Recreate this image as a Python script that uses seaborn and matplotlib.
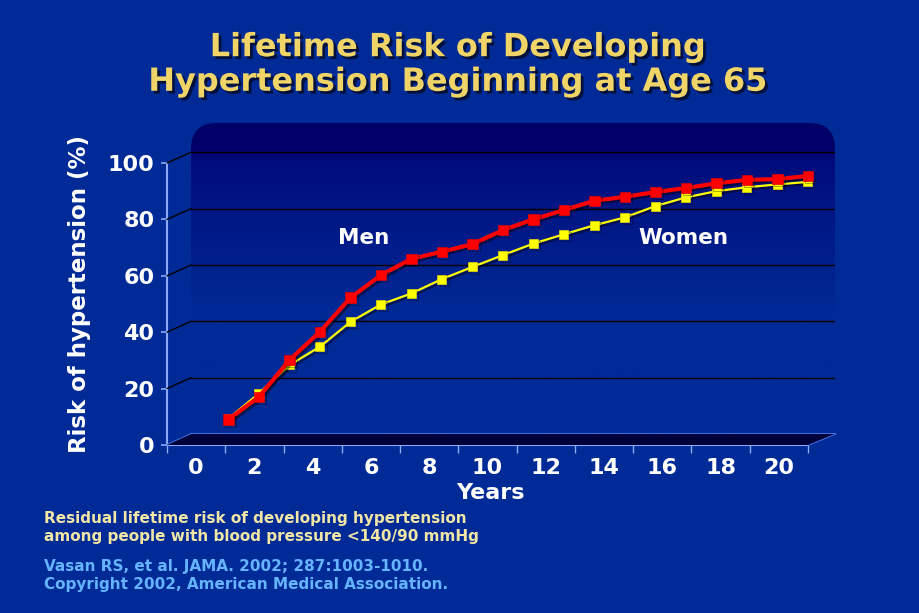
import matplotlib
matplotlib.use("Agg")
import matplotlib.pyplot as plt
import matplotlib.patheffects as pe
from matplotlib.patches import FancyBboxPatch, Polygon
from matplotlib.lines import Line2D
from matplotlib.colors import LinearSegmentedColormap
import numpy as np
import pandas as pd
import seaborn as sns

# values (risk in %, by years since age 65)
years = list(range(1, 21))
men_risk = [5.2, 13.2, 26.3, 36.3, 48.4, 56.4, 62.2, 64.7, 67.4, 72.4,
            76.2, 79.5, 82.8, 84.2, 85.9, 87.3, 89.0, 90.2, 90.5, 91.6]
women_risk = [5.5, 14.4, 24.5, 31.0, 39.8, 46.0, 49.9, 55.0, 59.3, 63.5,
              67.6, 70.9, 74.1, 76.9, 80.9, 84.0, 86.2, 87.6, 88.6, 89.5]
year_labels = [0, 2, 4, 6, 8, 10, 12, 14, 16, 18, 20]
risk_ticks = [0, 20, 40, 60, 80, 100]

df = pd.DataFrame({"Years": years * 2,
                   "Risk": men_risk + women_risk,
                   "Sex": ["Men"] * 20 + ["Women"] * 20})

BG = "#002a96"
AXIS_BLUE = "#8aaaf8"
EDGE_BLUE = "#4f7ff0"

sns.set_style("dark")
plt.rcParams["font.family"] = ["DejaVu Sans"]
plt.rcParams["font.weight"] = "bold"

W, H = 920, 613


def fx(px):
    return px / W


def fy(py):
    return 1 - py / H


fig = plt.figure(figsize=(9.2, 6.13), dpi=100, facecolor=BG)

# back wall of the pseudo-3D chart
ax_back = fig.add_axes([fx(191), fy(434), fx(835) - fx(191), fy(123) - fy(434)])
ax_back.set_xlim(-0.23, 20.89)
ax_back.set_ylim(0, 110.4)
ax_back.set_axis_off()

wall_cmap = LinearSegmentedColormap.from_list(
    "wall", [(0, BG), (0.38, BG), (0.88, "#000c7c"), (0.905, "#00006c"), (1, "#000066")])
grad = np.linspace(0, 1, 256).reshape(-1, 1)
im = ax_back.imshow(grad, extent=[-0.23, 20.89, 0, 110.4], origin="lower",
                    aspect="auto", cmap=wall_cmap, zorder=0)
wall = FancyBboxPatch((0, 0), 1, 1, boxstyle="round,pad=0,rounding_size=0.04",
                      mutation_aspect=644 / 311, transform=ax_back.transAxes)
im.set_clip_path(wall)

for v in risk_ticks[1:]:
    ax_back.axhline(v, color="black", lw=1, zorder=1)

shadow = [pe.SimpleLineShadow(offset=(1.5, -1.5), shadow_color="black", alpha=0.45), pe.Normal()]
sns.lineplot(data=df[df.Sex == "Women"], x="Years", y="Risk", ax=ax_back,
             color="#ffff00", lw=1.6, marker="s", markersize=6.5,
             markeredgecolor="#e8d800", markeredgewidth=0.5,
             path_effects=shadow, zorder=3, legend=False)
sns.lineplot(data=df[df.Sex == "Men"], x="Years", y="Risk", ax=ax_back,
             color="#ff0000", lw=3, marker="s", markersize=7.5,
             markeredgecolor="#e00000", markeredgewidth=0.5,
             path_effects=shadow, zorder=4, legend=False)
ax_back.set_axis_off()

ax_back.text(5.44, 69.6, "Men", color="white", fontsize=15.5, fontweight="bold",
             ha="center", va="center", zorder=5)
ax_back.text(15.93, 69.6, "Women", color="white", fontsize=15.5, fontweight="bold",
             ha="center", va="center", zorder=5)

# floor of the pseudo-3D chart
floor = Polygon([(fx(167), fy(445)), (fx(191), fy(434)), (fx(835), fy(434)), (fx(808), fy(445))],
                closed=True, transform=fig.transFigure, facecolor="#00003a",
                edgecolor="none", zorder=2)
fig.patches.append(floor)
for (x0, y0), (x1, y1) in [((191, 434), (835, 434)), ((808, 445), (835, 434)),
                           ((167, 445), (191, 434))]:
    fig.lines.append(Line2D([fx(x0), fx(x1)], [fy(y0), fy(y1)], transform=fig.transFigure,
                            color=EDGE_BLUE, lw=1.2))
for v in risk_ticks[1:]:
    yf = 445 - v * 2.82
    yb = 434 - v * 2.817
    fig.lines.append(Line2D([fx(167), fx(191)], [fy(yf), fy(yb)], transform=fig.transFigure,
                            color="black", lw=1))

# front axes carrying the tick labels
ax = fig.add_axes([fx(167), fy(445), fx(808) - fx(167), fy(163) - fy(445)])
ax.set_facecolor("none")
ax.set_xlim(-1, 21)
ax.set_ylim(0, 100)
for s in ["top", "right"]:
    ax.spines[s].set_visible(False)
for s in ["left", "bottom"]:
    ax.spines[s].set_color(AXIS_BLUE)
    ax.spines[s].set_linewidth(1.5)
ax.set_yticks(risk_ticks)
ax.set_yticklabels([str(v) for v in risk_ticks])
ax.set_xticks(np.arange(-1, 22, 2))
ax.set_xticklabels([])
ax.set_xticks(year_labels, minor=True)
ax.set_xticklabels([str(v) for v in year_labels], minor=True)
ax.tick_params(axis="y", colors=AXIS_BLUE, labelcolor="white", labelsize=16,
               length=4, width=1.2, pad=5, left=True)
ax.tick_params(axis="x", which="major", colors=AXIS_BLUE, length=6, width=1, bottom=True)
ax.tick_params(axis="x", which="minor", length=0, labelcolor="white", labelsize=16, pad=9)
for lab in ax.get_xticklabels(minor=True) + ax.get_yticklabels():
    lab.set_fontweight("bold")
ax.grid(False)

fig.text(fx(80), fy(294), "Risk of hypertension (%)", rotation=90, color="white",
         fontsize=16.5, fontweight="bold", ha="center", va="center")
fig.text(fx(490), fy(493), "Years", color="white", fontsize=16, fontweight="bold",
         ha="center", va="center")

title_shadow = [pe.withSimplePatchShadow(offset=(2, -2), shadow_rgbFace="black", alpha=0.6)]
fig.text(fx(458), fy(65), "Lifetime Risk of Developing\nHypertension Beginning at Age 65",
         color="#f0d468", fontsize=23, fontweight="bold", ha="center", va="center",
         linespacing=1.15, path_effects=title_shadow)

fig.text(fx(44), fy(527), "Residual lifetime risk of developing hypertension\n"
         "among people with blood pressure <140/90 mmHg",
         color="#f2e6a6", fontsize=11, fontweight="bold", ha="left", va="center",
         linespacing=1.25)
fig.text(fx(44), fy(575), "Vasan RS, et al. JAMA. 2002; 287:1003-1010.\n"
         "Copyright 2002, American Medical Association.",
         color="#66b3ff", fontsize=11, fontweight="bold", ha="left", va="center",
         linespacing=1.25)

fig.savefig("out.png", dpi=100, facecolor=BG)
